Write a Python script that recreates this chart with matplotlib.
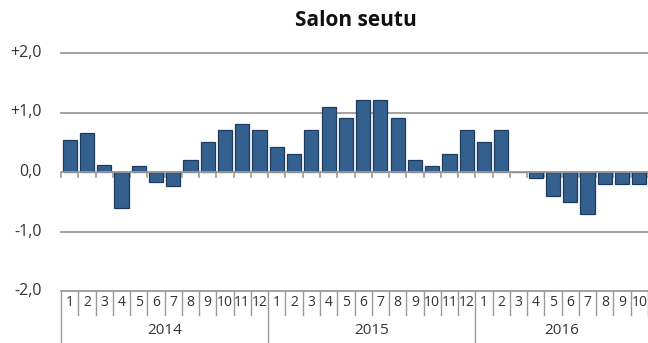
import matplotlib
matplotlib.use("Agg")
import matplotlib.pyplot as plt
import matplotlib.transforms as mtransforms

plt.rcParams["font.family"] = ["Open Sans", "DejaVu Sans"]

# Monthly change, 2014-01 .. 2016-10
YEARS = ["2014", "2015", "2016"]
MONTHS_PER_YEAR = [12, 12, 10]
VALUES = [
    0.54, 0.65, 0.12, -0.61, 0.10, -0.16, -0.24, 0.21, 0.51, 0.71, 0.81, 0.71,
    0.42, 0.31, 0.71, 1.10, 0.91, 1.21, 1.21, 0.91, 0.20, 0.10, 0.30, 0.71,
    0.51, 0.71, 0.0, -0.10, -0.40, -0.50, -0.70, -0.20, -0.20, -0.20,
]
Y_TICKS = [-2, -1, 0, 1, 2]
Y_TICK_LABELS = ["-2,0", "-1,0", "0,0", "+1,0", "+2,0"]

BAR_COLOR = "#34608f"
BAR_EDGE = "#1d3a5c"
GRID_COLOR = "#9a9a9a"
TEXT_COLOR = "#333333"

fig = plt.figure(figsize=(6.48, 3.43), dpi=100)
H = 343.0
ax_bottom_px, ax_top_px = 291.0, 53.0
ax_left_px, ax_width_px = 61.0, 587.0
ax = fig.add_axes([ax_left_px / 648, (H - ax_bottom_px) / H, ax_width_px / 648,
                   (ax_bottom_px - ax_top_px) / H])

n = len(VALUES)
xs = [i + 0.5 for i in range(n)]
ax.bar(xs, VALUES, width=0.82, color=BAR_COLOR, edgecolor=BAR_EDGE,
       linewidth=0.9, zorder=3)

ax.set_xlim(0, n)
ax.set_ylim(-2, 2)
for s in ax.spines.values():
    s.set_visible(False)
ax.set_xticks([])
ax.set_yticks([])

# horizontal grid
for y in [2, 1, -1, -2]:
    ax.axhline(y, color=GRID_COLOR, linewidth=1.3, zorder=1, clip_on=False)
ax.axhline(0, color=GRID_COLOR, linewidth=1.3, zorder=4)

# y labels
ylab_x = -(ax_left_px - 42) / ax_width_px
for y, lab in zip(Y_TICKS, Y_TICK_LABELS):
    ax.text(ylab_x, y, lab, transform=mtransforms.blended_transform_factory(
        ax.transAxes, ax.transData), ha="right", va="center",
        fontsize=11.5, color=TEXT_COLOR)

# small ticks under the zero line
px = (ax_bottom_px - ax_top_px) / 4.0
tick_len = 5.0 / px
for i in range(n + 1):
    ax.plot([i, i], [0, -tick_len], color=GRID_COLOR, linewidth=1.2,
            zorder=2, clip_on=False)

# two-level category axis
trans = mtransforms.blended_transform_factory(ax.transData, ax.transAxes)
span = ax_bottom_px - ax_top_px
month_bot = -(315 - ax_bottom_px) / span
year_bot = -(343 - ax_bottom_px) / span
month_y = -(303 - ax_bottom_px) / span
year_y = -(330 - ax_bottom_px) / span

pos = 0
year_edges = [0]
for count in MONTHS_PER_YEAR:
    pos += count
    year_edges.append(pos)

for i in range(n + 1):
    bot = year_bot if i in year_edges[:-1] else month_bot
    ax.plot([i, i], [0, bot], transform=trans, color=GRID_COLOR,
            linewidth=1.0, clip_on=False)

i = 0
for year, count in zip(YEARS, MONTHS_PER_YEAR):
    for m in range(1, count + 1):
        ax.text(i + 0.5, month_y, str(m), transform=trans, ha="center",
                va="center", fontsize=10, color=TEXT_COLOR)
        i += 1
    start = i - count
    ax.text(start + count / 2, year_y, year, transform=trans, ha="center",
            va="center", fontsize=11, color=TEXT_COLOR)

fig.text(356 / 648, 1 - 21 / H, "Salon seutu", ha="center", va="center",
         fontsize=15, fontweight="bold", color="#111111")

fig.savefig("out.png", dpi=100)
